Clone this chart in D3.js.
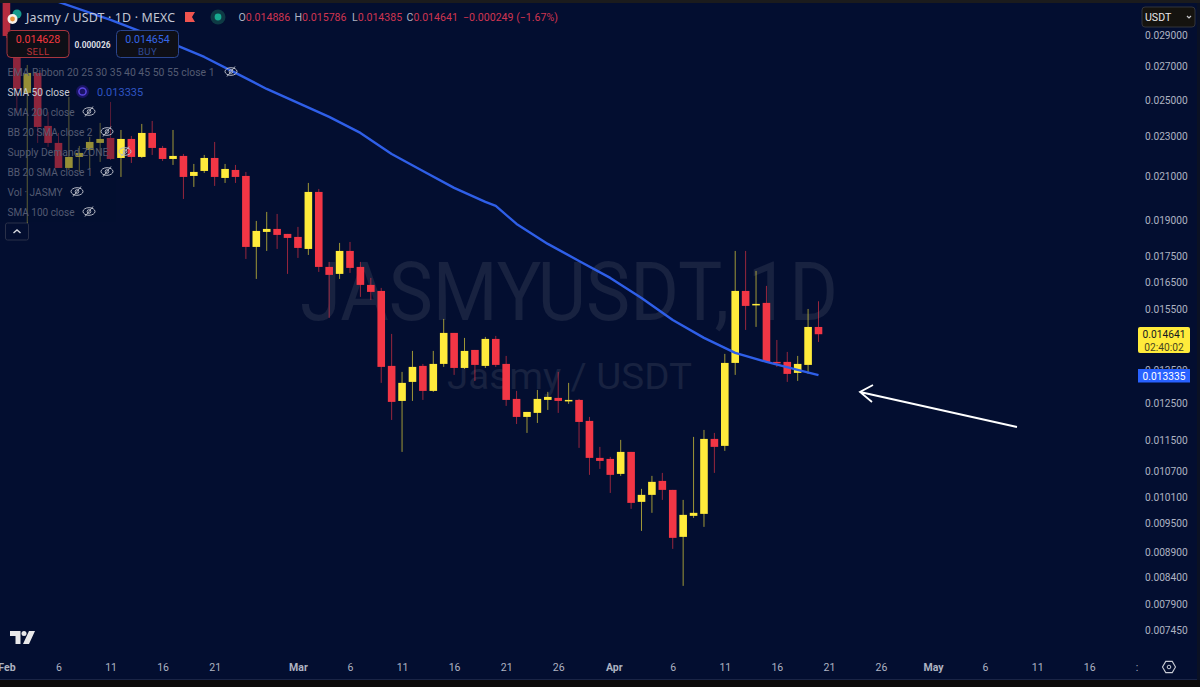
<!DOCTYPE html>
<html lang="en">
<head>
    <meta charset="UTF-8">
    <title>Jasmy / USDT 1D</title>
    <script src="https://d3js.org/d3.v7.min.js"></script>
    <style>
        html, body {
            margin: 0;
            padding: 0;
            background: #030e30;
            overflow: hidden;
        }
        svg {
            display: block;
            font-family: Roboto, "Noto Sans", sans-serif;
        }
        .domain, .tick line {
            display: none;
        }
    </style>
</head>
<body>
    <div id="chart"></div>
    <script>
        // candles, one per day from firstDay
        const firstDay = "2023-02-01";
        const opens = [
            0.031201, 0.028937, 0.025405, 0.026593, 0.023561, 0.022664, 0.021405, 0.021950, 0.022303, 0.022664,
            0.022923, 0.021899, 0.022871, 0.021950, 0.023187, 0.022406, 0.021849, 0.022001, 0.021018, 0.021259,
            0.021899, 0.020922, 0.021307, 0.021018, 0.017872, 0.018495, 0.018622, 0.018411, 0.018285, 0.017790,
            0.020264, 0.017074, 0.016804, 0.017709, 0.017074, 0.016387, 0.016163, 0.013619, 0.012572, 0.013130,
            0.013619, 0.012863, 0.013681, 0.014685, 0.013556, 0.014125, 0.013619, 0.014485, 0.013681, 0.012630,
            0.012121, 0.012233, 0.012601, 0.012659, 0.012572, 0.012601, 0.012011, 0.011038, 0.011012, 0.010642,
            0.011190, 0.009983, 0.010144, 0.010473, 0.010260, 0.009216, 0.009669, 0.009713, 0.011527, 0.011345,
            0.013712, 0.016163, 0.015655, 0.015727, 0.013744, 0.013744, 0.013403, 0.013650, 0.014886
        ];
        const highs = [
            0.031343, 0.028937, 0.027083, 0.026593, 0.024326, 0.023187, 0.025174, 0.022509, 0.022976, 0.023723,
            0.024888, 0.023345, 0.023029, 0.023669, 0.023831, 0.022509, 0.023345, 0.022101, 0.021602, 0.022051,
            0.022715, 0.021602, 0.021553, 0.021211, 0.018965, 0.019359, 0.019271, 0.018411, 0.018708, 0.020685,
            0.020403, 0.017270, 0.018036, 0.018077, 0.017270, 0.016651, 0.016275, 0.014651, 0.013433, 0.014093,
            0.013681, 0.014093, 0.015161, 0.014685, 0.014518, 0.014125, 0.014551, 0.014585, 0.013933, 0.012863,
            0.012260, 0.012892, 0.012834, 0.013433, 0.013101, 0.012630, 0.012121, 0.011319, 0.011063, 0.011501,
            0.011190, 0.010284, 0.010594, 0.010666, 0.010260, 0.010028, 0.011580, 0.011766, 0.011686, 0.013998,
            0.017709, 0.017709, 0.016919, 0.016350, 0.014451, 0.014061, 0.013933, 0.015511, 0.015786
        ];
        const lows = [
            0.028804, 0.024271, 0.018879, 0.022664, 0.022458, 0.021405, 0.021307, 0.021211, 0.021356, 0.021701,
            0.021799, 0.020970, 0.021651, 0.021899, 0.022051, 0.021750, 0.021553, 0.019942, 0.020497, 0.021163,
            0.020544, 0.020685, 0.020685, 0.017388, 0.016612, 0.017709, 0.017790, 0.016804, 0.017428, 0.017548,
            0.016880, 0.015197, 0.016612, 0.016842, 0.015944, 0.015834, 0.013101, 0.012038, 0.011190, 0.012572,
            0.012601, 0.012834, 0.013588, 0.013342, 0.013525, 0.013160, 0.013556, 0.013588, 0.012430, 0.011927,
            0.011686, 0.011955, 0.012316, 0.012233, 0.012487, 0.011293, 0.010618, 0.010764, 0.010189, 0.010594,
            0.009825, 0.009343, 0.009736, 0.010028, 0.008967, 0.008240, 0.009624, 0.009429, 0.010666, 0.011216,
            0.013342, 0.014785, 0.014888, 0.013712, 0.013588, 0.013130, 0.013160, 0.013372, 0.014385
        ];
        const closes = [
            0.028937, 0.025637, 0.026593, 0.023507, 0.022664, 0.021405, 0.021950, 0.022152, 0.022715, 0.022871,
            0.021849, 0.022871, 0.021950, 0.023187, 0.022406, 0.021849, 0.022001, 0.020970, 0.021211, 0.021899,
            0.020970, 0.021356, 0.020970, 0.017872, 0.018537, 0.018622, 0.018369, 0.018243, 0.017831, 0.020264,
            0.017074, 0.016766, 0.017709, 0.017035, 0.016387, 0.016127, 0.013588, 0.012544, 0.013101, 0.013588,
            0.012863, 0.013681, 0.014685, 0.013556, 0.014093, 0.013650, 0.014485, 0.013650, 0.012601, 0.012121,
            0.012260, 0.012630, 0.012688, 0.012572, 0.012601, 0.011983, 0.011038, 0.010962, 0.010618, 0.011190,
            0.009960, 0.010144, 0.010450, 0.010260, 0.009195, 0.009691, 0.009736, 0.011527, 0.011319, 0.013712,
            0.016163, 0.015619, 0.015691, 0.013744, 0.013712, 0.013372, 0.013681, 0.014886, 0.014641
        ];

        // SMA 50
        const smaDays = [
            "2023-02-06", "2023-02-11", "2023-02-17", "2023-02-20", "2023-02-23", "2023-02-26", "2023-03-01",
            "2023-03-04", "2023-03-07", "2023-03-10", "2023-03-13", "2023-03-16", "2023-03-19", "2023-03-20",
            "2023-03-22", "2023-03-25", "2023-03-28", "2023-03-31", "2023-04-03", "2023-04-06", "2023-04-09",
            "2023-04-12", "2023-04-15", "2023-04-18", "2023-04-20"
        ];
        const smaValues = [
            0.031272, 0.030012, 0.028413, 0.027582, 0.026593, 0.025637, 0.024831,
            0.024050, 0.023187, 0.022101, 0.021259, 0.020450, 0.019806, 0.019627,
            0.018836, 0.017995, 0.017309, 0.016651, 0.015907, 0.015127, 0.014518,
            0.014029, 0.013744, 0.013494, 0.013335
        ];

        const priceTicks = [
            0.029, 0.027, 0.025, 0.023, 0.021, 0.019, 0.0175, 0.0165, 0.0155,
            0.0135, 0.0125, 0.0115, 0.0107, 0.0101, 0.0095, 0.0089, 0.0084, 0.0079, 0.00745
        ];
        const dayTicks = [
            "2023-02-01", "2023-02-06", "2023-02-11", "2023-02-16", "2023-02-21", "2023-03-01", "2023-03-06",
            "2023-03-11", "2023-03-16", "2023-03-21", "2023-03-26", "2023-04-01", "2023-04-06", "2023-04-11",
            "2023-04-16", "2023-04-21", "2023-04-26", "2023-05-01", "2023-05-06", "2023-05-11", "2023-05-16"
        ];
        const dayLabels = [
            "Feb", "6", "11", "16", "21", "Mar", "6", "11", "16", "21", "26",
            "Apr", "6", "11", "16", "21", "26", "May", "6", "11", "16"
        ];
        const legendRows = [
            "EMA Ribbon 20 25 30 35 40 45 50 55 close 1", "SMA 50 close", "SMA 200 close", "BB 20 SMA close 2",
            "Supply Demand ZONE", "BB 20 SMA close 1", "Vol \u00b7 JASMY", "SMA 100 close"
        ];
        const ohlcLabels = ["O", "H", "L", "C"];
        const ohlcValues = ["0.014886", "0.015786", "0.014385", "0.014641"];

        const width = 1200, height = 687;
        const bg = "#030e30", red = "#f23645", yellow = "#ffeb3b", blue = "#2962ff";

        const parseDay = d3.utcParse("%Y-%m-%d");
        const x = d3.scaleUtc()
            .domain([parseDay("2023-03-06"), parseDay("2023-04-20")])
            .range([350, 818.5]);
        const y = d3.scaleLog()
            .domain([0.029, 0.00745])
            .range([35, 630]);

        const candles = opens.map((o, i) => ({
            day: d3.utcDay.offset(parseDay(firstDay), i),
            open: o, high: highs[i], low: lows[i], close: closes[i]
        }));

        const svg = d3.select("#chart").append("svg")
            .attr("width", width)
            .attr("height", height);

        svg.append("rect").attr("width", width).attr("height", height).attr("fill", bg);

        svg.append("defs").append("clipPath").attr("id", "pane")
            .append("rect").attr("x", 0).attr("y", 3).attr("width", 1197).attr("height", 677);

        // watermark
        svg.append("text")
            .attr("x", 300).attr("y", 320)
            .attr("textLength", 538).attr("lengthAdjust", "spacingAndGlyphs")
            .attr("font-size", 82).attr("fill", "#182240")
            .text("JASMYUSDT, 1D");
        svg.append("text")
            .attr("x", 447).attr("y", 389)
            .attr("textLength", 245).attr("lengthAdjust", "spacingAndGlyphs")
            .attr("font-size", 36).attr("fill", "#182240")
            .text("Jasmy / USDT");

        const pane = svg.append("g").attr("clip-path", "url(#pane)");

        // candles
        const candle = pane.selectAll("g.candle")
            .data(candles)
            .enter().append("g")
            .attr("class", "candle")
            .attr("transform", d => `translate(${x(d.day)},0)`);

        candle.append("line")
            .attr("y1", d => y(d.high))
            .attr("y2", d => y(d.low))
            .attr("stroke", d => d.close >= d.open ? yellow : red)
            .attr("stroke-opacity", 0.62)
            .attr("stroke-width", 1);

        candle.append("rect")
            .attr("x", -3.8)
            .attr("width", 7.6)
            .attr("y", d => y(Math.max(d.open, d.close)))
            .attr("height", d => Math.max(1.5, Math.abs(y(d.open) - y(d.close))))
            .attr("fill", d => d.close >= d.open ? yellow : red);

        // SMA 50
        const smaLine = d3.line()
            .x((d, i) => x(parseDay(smaDays[i])))
            .y(d => y(d));

        pane.append("path")
            .datum(smaValues)
            .attr("d", smaLine)
            .attr("fill", "none")
            .attr("stroke", "#2f5fe8")
            .attr("stroke-width", 2.4)
            .attr("stroke-linejoin", "round");

        // legend dims whatever sits behind it
        svg.append("rect").attr("x", 0).attr("y", 58).attr("width", 116).attr("height", 164)
            .attr("fill", bg).attr("opacity", 0.42);
        svg.append("rect").attr("x", 0).attr("y", 0).attr("width", 28).attr("height", 58)
            .attr("fill", bg).attr("opacity", 0.25);

        // price axis
        const yAxis = svg.append("g")
            .attr("transform", "translate(1145,0)")
            .call(d3.axisRight(y).tickValues(priceTicks).tickSize(0).tickPadding(0).tickFormat(d3.format(".6f")));
        yAxis.selectAll("text")
            .attr("fill", "#aeb3c2")
            .attr("font-size", 10.2)
            .attr("font-family", "Roboto, sans-serif");

        // time axis
        const xAxis = svg.append("g")
            .attr("transform", "translate(0,664)")
            .call(d3.axisBottom(x)
                .tickValues(dayTicks.map(parseDay))
                .tickSize(0).tickPadding(0)
                .tickFormat((d, i) => dayLabels[i]));
        xAxis.selectAll("text")
            .attr("fill", "#aeb3c2")
            .attr("font-size", 10.5)
            .attr("font-family", "Roboto, sans-serif")
            .attr("font-weight", (d, i) => isNaN(+dayLabels[i]) ? 700 : 400)
            .attr("dx", (d, i) => dayLabels[i] === "Apr" ? -7 : 0);

        svg.append("text").attr("x", 1137).attr("y", 671).attr("text-anchor", "middle")
            .attr("fill", "#aeb3c2").attr("font-size", 10.5).text(":");

        // frame around the shot
        svg.append("rect").attr("width", width).attr("height", 3).attr("fill", "#1b1b1d");
        svg.append("rect").attr("y", 680).attr("width", width).attr("height", 7).attr("fill", "#0d0b0b");
        svg.append("line").attr("x1", 0).attr("x2", width).attr("y1", 679.5).attr("y2", 679.5).attr("stroke", "#1a2445");
        svg.append("rect").attr("x", 1197).attr("y", 3).attr("width", 3).attr("height", 677).attr("fill", "#0a1124");

        // title row
        svg.append("circle").attr("cx", 17).attr("cy", 14).attr("r", 4.5).attr("fill", "#159a8c");
        svg.append("circle").attr("cx", 12.5).attr("cy", 19).attr("r", 5).attr("fill", "#f5f0ea");
        svg.append("circle").attr("cx", 12.5).attr("cy", 19).attr("r", 2.4).attr("fill", "#e8913a");
        svg.append("text").attr("x", 26).attr("y", 22)
            .attr("fill", "#c3c7d3").attr("font-size", 12.4)
            .attr("font-family", "'Noto Sans', sans-serif")
            .attr("textLength", 149).attr("lengthAdjust", "spacing")
            .text("Jasmy / USDT \u00b7 1D \u00b7 MEXC");
        svg.append("path").attr("d", "M185 12 h10 l-3 5 l3 5 h-10 z").attr("fill", "#f0544f");
        svg.append("circle").attr("cx", 218).attr("cy", 17).attr("r", 7.5).attr("fill", "#0e3a44");
        svg.append("circle").attr("cx", 218).attr("cy", 17).attr("r", 3.4).attr("fill", "#17a98f");

        const ohlcX = [238.5, 294.5, 352, 406.5];
        ohlcLabels.forEach((label, i) => {
            const t = svg.append("text").attr("x", ohlcX[i]).attr("y", 21).attr("font-size", 10.6);
            t.append("tspan").attr("fill", "#aeb3c2").text(label);
            t.append("tspan").attr("fill", "#cf3550").text(ohlcValues[i]);
        });
        svg.append("text").attr("x", 463).attr("y", 21).attr("font-size", 10.6)
            .attr("fill", "#cf3550").text("\u22120.000249 (\u22121.67%)");

        // sell / buy
        const tradeBox = (bx, stroke, priceColor, labelColor, price, label) => {
            svg.append("rect").attr("x", bx).attr("y", 30.5).attr("width", 62).attr("height", 27).attr("rx", 4)
                .attr("fill", "#0e0f17").attr("stroke", stroke);
            svg.append("text").attr("x", bx + 31).attr("y", 43).attr("text-anchor", "middle")
                .attr("font-size", 10.6).attr("fill", priceColor).text(price);
            svg.append("text").attr("x", bx + 31).attr("y", 54.5).attr("text-anchor", "middle")
                .attr("font-size", 9.6).attr("letter-spacing", 0.4).attr("fill", labelColor).text(label);
        };
        tradeBox(7, "#a8363f", "#f2383f", "#b8333a", "0.014628", "SELL");
        tradeBox(116.5, "#2a458f", "#3566e6", "#2e4a96", "0.014654", "BUY");
        svg.append("text").attr("x", 92.5).attr("y", 47.5).attr("text-anchor", "middle")
            .attr("font-size", 8.4).attr("font-weight", 700).attr("fill", "#d8dae0").text("0.000026");

        // indicator rows
        const eyeX = [231, null, 89, 107, 125, 107, 77, 89];
        const rowWidths = [207, 62, 67, 85, 101, 85, 55, 67];
        legendRows.forEach((label, i) => {
            const rowY = 72 + i * 20;
            svg.append("text").attr("x", 7.5).attr("y", rowY + 4.2)
                .attr("font-size", 11)
                .attr("textLength", rowWidths[i]).attr("lengthAdjust", "spacingAndGlyphs")
                .attr("fill", i === 1 ? "#c8cbd4" : "#545b72")
                .text(label);
            if (eyeX[i] === null) return;
            const eye = svg.append("g").attr("transform", `translate(${eyeX[i]},${rowY - 0.5})`)
                .attr("fill", "none").attr("stroke", "#b6b9c4").attr("stroke-width", 1);
            eye.append("ellipse").attr("rx", 6).attr("ry", 3.8);
            eye.append("circle").attr("r", 1.8);
            eye.append("line").attr("x1", -4).attr("y1", 5).attr("x2", 4).attr("y2", -5);
        });

        svg.append("circle").attr("cx", 82.5).attr("cy", 91.5).attr("r", 6.5).attr("fill", "#1a1464");
        svg.append("circle").attr("cx", 82.5).attr("cy", 91.5).attr("r", 3.6)
            .attr("fill", "none").attr("stroke", "#5a46e0").attr("stroke-width", 1.5);
        svg.append("text").attr("x", 97).attr("y", 95.7).attr("font-size", 11).attr("fill", "#2f55c4").text("0.013335");

        svg.append("rect").attr("x", 5.5).attr("y", 223).attr("width", 23).attr("height", 17).attr("rx", 2)
            .attr("fill", bg).attr("stroke", "#2a3048");
        svg.append("path").attr("d", "M13.5 233 l3.5 -3 l3.5 3").attr("fill", "none")
            .attr("stroke", "#d6d8df").attr("stroke-width", 1.4);

        // hand drawn arrow
        svg.append("path").attr("d", "M1017 427 L860 392 M873 385 L860 392 L872 402")
            .attr("fill", "none").attr("stroke", "#ffffff").attr("stroke-width", 1.8);

        // last price labels
        svg.append("rect").attr("x", 1138).attr("y", 327).attr("width", 52).attr("height", 26).attr("rx", 2).attr("fill", yellow);
        svg.append("text").attr("x", 1164).attr("y", 338).attr("text-anchor", "middle")
            .attr("font-size", 10.2).attr("fill", "#131722").text("0.014641");
        svg.append("text").attr("x", 1164).attr("y", 350.5).attr("text-anchor", "middle")
            .attr("font-size", 10.2).attr("fill", "#4a4520").text("02:40:02");
        svg.append("rect").attr("x", 1138).attr("y", 369).attr("width", 52).attr("height", 13.5).attr("fill", blue);
        svg.append("text").attr("x", 1164).attr("y", 379.5).attr("text-anchor", "middle")
            .attr("font-size", 10.2).attr("fill", "#ffffff").text("0.013335");

        // currency switch
        svg.append("rect").attr("x", 1142).attr("y", 7).attr("width", 53).attr("height", 20).attr("rx", 3)
            .attr("fill", "#15130f").attr("stroke", "#33343a");
        svg.append("text").attr("x", 1145).attr("y", 21).attr("font-size", 10.6).attr("fill", "#e8e8ea").text("USDT");
        svg.append("path").attr("d", "M1187 16 l2 2 l2 -2").attr("fill", "none").attr("stroke", "#c8c8cc").attr("stroke-width", 1.2);

        // TV logo
        svg.append("path")
            .attr("d", "M10 631 H20.5 V644 H15.5 V636 H10 Z M29 631 H35 L29 644 H23 Z")
            .attr("fill", "#e8e8ea");
        svg.append("circle").attr("cx", 24).attr("cy", 633.5).attr("r", 2.5).attr("fill", "#e8e8ea");

        // settings
        svg.append("path").attr("d", d3.line()(d3.range(6).map(i => [
            1169 + 6.5 * Math.cos(i * Math.PI / 3), 667 + 6.5 * Math.sin(i * Math.PI / 3)
        ])) + "Z").attr("fill", "none").attr("stroke", "#c8cbd4").attr("stroke-width", 1.1);
        svg.append("circle").attr("cx", 1169).attr("cy", 667).attr("r", 1.8)
            .attr("fill", "none").attr("stroke", "#c8cbd4").attr("stroke-width", 1);
    </script>
</body>
</html>
